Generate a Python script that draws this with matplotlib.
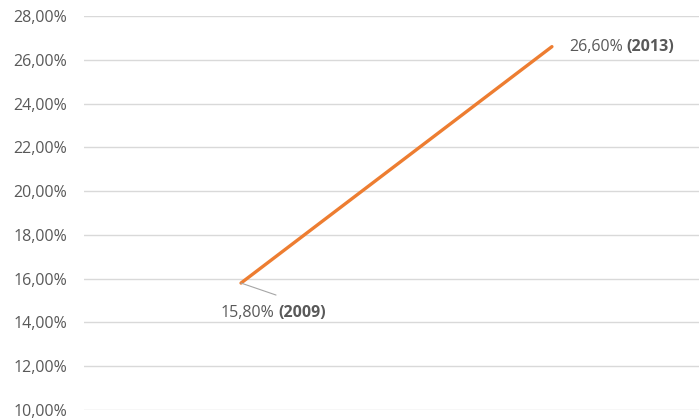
import matplotlib
matplotlib.use("Agg")
import matplotlib.pyplot as plt
from matplotlib.ticker import FuncFormatter

years = ["2009", "2013"]
values = [15.80, 26.60]
y_ticks = [10, 12, 14, 16, 18, 20, 22, 24, 26, 28]

W, H = 699, 420
fig = plt.figure(figsize=(W / 100, H / 100), dpi=100)
ax = fig.add_axes([84 / W, (H - 410) / H, 1 - 84 / W, (410 - 16) / H])

font = "Open Sans"
grey = "#595959"
fs = 11.5

def fmt(v):
    return f"{v:.2f}".replace(".", ",") + "%"

ax.set_ylim(10, 28)
ax.set_xlim(-0.505, 1.473)
ax.set_yticks(y_ticks)
ax.yaxis.set_major_formatter(FuncFormatter(lambda v, p: fmt(v)))
ax.tick_params(axis="y", length=0, pad=12, labelsize=fs, labelcolor=grey)
for lbl in ax.get_yticklabels():
    lbl.set_fontfamily(font)
ax.set_xticks([])
ax.grid(axis="y", color="#d9d9d9", linewidth=1)
ax.set_axisbelow(True)
for s in ax.spines.values():
    s.set_visible(False)

x = list(range(len(values)))
ax.plot(x, values, color="#ed7d31", linewidth=2.4, solid_capstyle="round", zorder=3)

# first point label with leader line
ax.annotate("", xy=(x[0], values[0]), xytext=(35, -12), textcoords="offset pixels",
            arrowprops=dict(arrowstyle="-", color="#a6a6a6", lw=0.8, shrinkA=0, shrinkB=0))
t0 = ax.annotate(fmt(values[0]), xy=(x[0], values[0]), xytext=(-20, -30), textcoords="offset pixels",
                 ha="left", va="center", fontsize=fs, color=grey, fontfamily=font)
ax.annotate("(" + years[0] + ")", xy=(1, 0.5), xycoords=t0, xytext=(4, 0), textcoords="offset pixels",
            ha="left", va="center", fontsize=fs, color=grey, fontweight="bold", fontfamily=font)

# last point label
t1 = ax.annotate(fmt(values[1]), xy=(x[1], values[1]), xytext=(17, 0), textcoords="offset pixels",
                 ha="left", va="center", fontsize=fs, color=grey, fontfamily=font)
ax.annotate("(" + years[1] + ")", xy=(1, 0.5), xycoords=t1, xytext=(4, 0), textcoords="offset pixels",
            ha="left", va="center", fontsize=fs, color=grey, fontweight="bold", fontfamily=font)

fig.savefig("out.png", dpi=100)
